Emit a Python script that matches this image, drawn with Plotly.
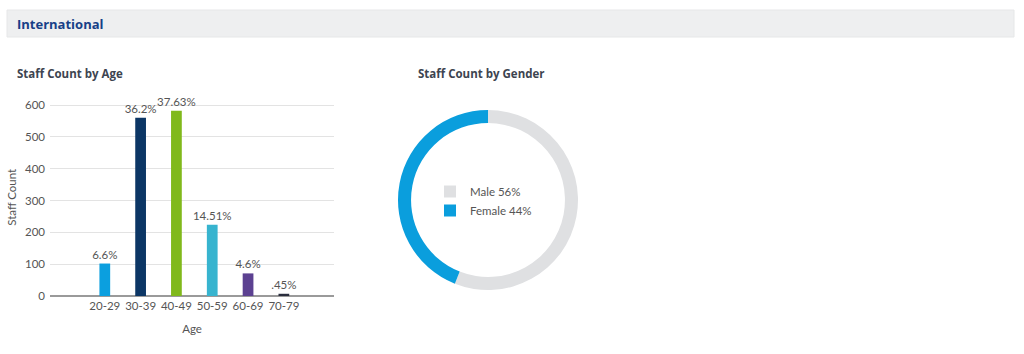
import plotly.graph_objects as go

W, H = 1024, 354

age_groups = ["20-29", "30-39", "40-49", "50-59", "60-69", "70-79"]
staff_counts = [102, 560, 582, 224, 71, 7]
age_pct_labels = ["6.6%", "36.2%", "37.63%", "14.51%", "4.6%", ".45%"]
bar_colors = ["#0b9fdf", "#0c3665", "#80b91b", "#37b4cf", "#5c4191", "#2a2e3e"]

genders = ["Male", "Female"]
gender_pct = [56, 44]
gender_colors = ["#dfe0e2", "#0a9edd"]

NARROW = "Lato, Roboto, sans-serif"
BOLD = "Open Sans, Noto Sans, sans-serif"
TXT = "#555555"

def px(xp):
    return xp / W

def py(yp):
    return 1 - yp / H

fig = go.Figure()

fig.add_trace(go.Bar(
    x=age_groups, y=staff_counts,
    marker=dict(color=bar_colors, line=dict(width=0)),
    width=0.3,
    text=age_pct_labels, textposition="outside", cliponaxis=False,
    constraintext="none",
    textfont=dict(family=NARROW, size=11.5, color=TXT),
    showlegend=False, hoverinfo="x+y",
))

fig.add_trace(go.Pie(
    labels=[f"{g} {p}%" for g, p in zip(genders, gender_pct)],
    values=gender_pct,
    marker=dict(colors=gender_colors, line=dict(width=0)),
    hole=0.855, sort=False, direction="clockwise", rotation=0,
    textinfo="none", hoverinfo="label",
    domain=dict(x=[px(398), px(578)], y=[py(290), py(110)]),
    showlegend=True,
))

y0, y600 = 296, 105
scale = (y0 - y600) / 600.0
ytop = 620
fig.update_layout(
    width=W, height=H,
    margin=dict(l=0, r=0, t=0, b=0, autoexpand=False),
    paper_bgcolor="white", plot_bgcolor="white",
    xaxis=dict(
        domain=[px(50), px(334)],
        range=[-1.53, 6.4],
        showgrid=False, zeroline=False, showline=False,
        ticks="", ticklabelstandoff=1,
        tickfont=dict(family=NARROW, size=11.5, color=TXT),
        title=dict(text="Age", font=dict(family=NARROW, size=11.5, color=TXT), standoff=14),
        automargin=True, fixedrange=True,
    ),
    yaxis=dict(
        domain=[py(y0), py(y0 - ytop * scale)],
        range=[0, ytop],
        tickvals=[0, 100, 200, 300, 400, 500, 600],
        showgrid=True, gridcolor="#e3e3e3", gridwidth=1,
        zeroline=True, zerolinecolor="#9a9a9a", zerolinewidth=2,
        showline=False, ticks="", ticklabelstandoff=4,
        tickfont=dict(family=NARROW, size=11.5, color=TXT),
        title=dict(text="Staff Count", font=dict(family=NARROW, size=11.5, color=TXT), standoff=5),
        automargin=True, fixedrange=True,
    ),
    legend=dict(
        x=px(430), y=py(201), xanchor="left", yanchor="middle",
        bgcolor="rgba(0,0,0,0)",
        font=dict(family=NARROW, size=11.5, color=TXT),
        itemwidth=30, tracegroupgap=2,
    ),
    shapes=[dict(
        type="rect", xref="paper", yref="paper",
        x0=px(7), x1=px(1014), y0=py(37), y1=py(10),
        fillcolor="#eeeff0", line=dict(color="#e6e7e8", width=1), layer="below",
    )],
    annotations=[
        dict(text="<b>International</b>", xref="paper", yref="paper",
             x=px(15), y=py(24), xanchor="left", yanchor="middle", showarrow=False,
             font=dict(family=BOLD, size=13, color="#173f87")),
        dict(text="<b>Staff Count by Age</b>", xref="paper", yref="paper",
             x=px(15), y=py(73), xanchor="left", yanchor="middle", showarrow=False,
             font=dict(family=BOLD, size=11.5, color="#3d4450")),
        dict(text="<b>Staff Count by Gender</b>", xref="paper", yref="paper",
             x=px(481), y=py(73), xanchor="center", yanchor="middle", showarrow=False,
             font=dict(family=BOLD, size=11.5, color="#3d4450")),
    ],
)

fig.write_html("out.html")
